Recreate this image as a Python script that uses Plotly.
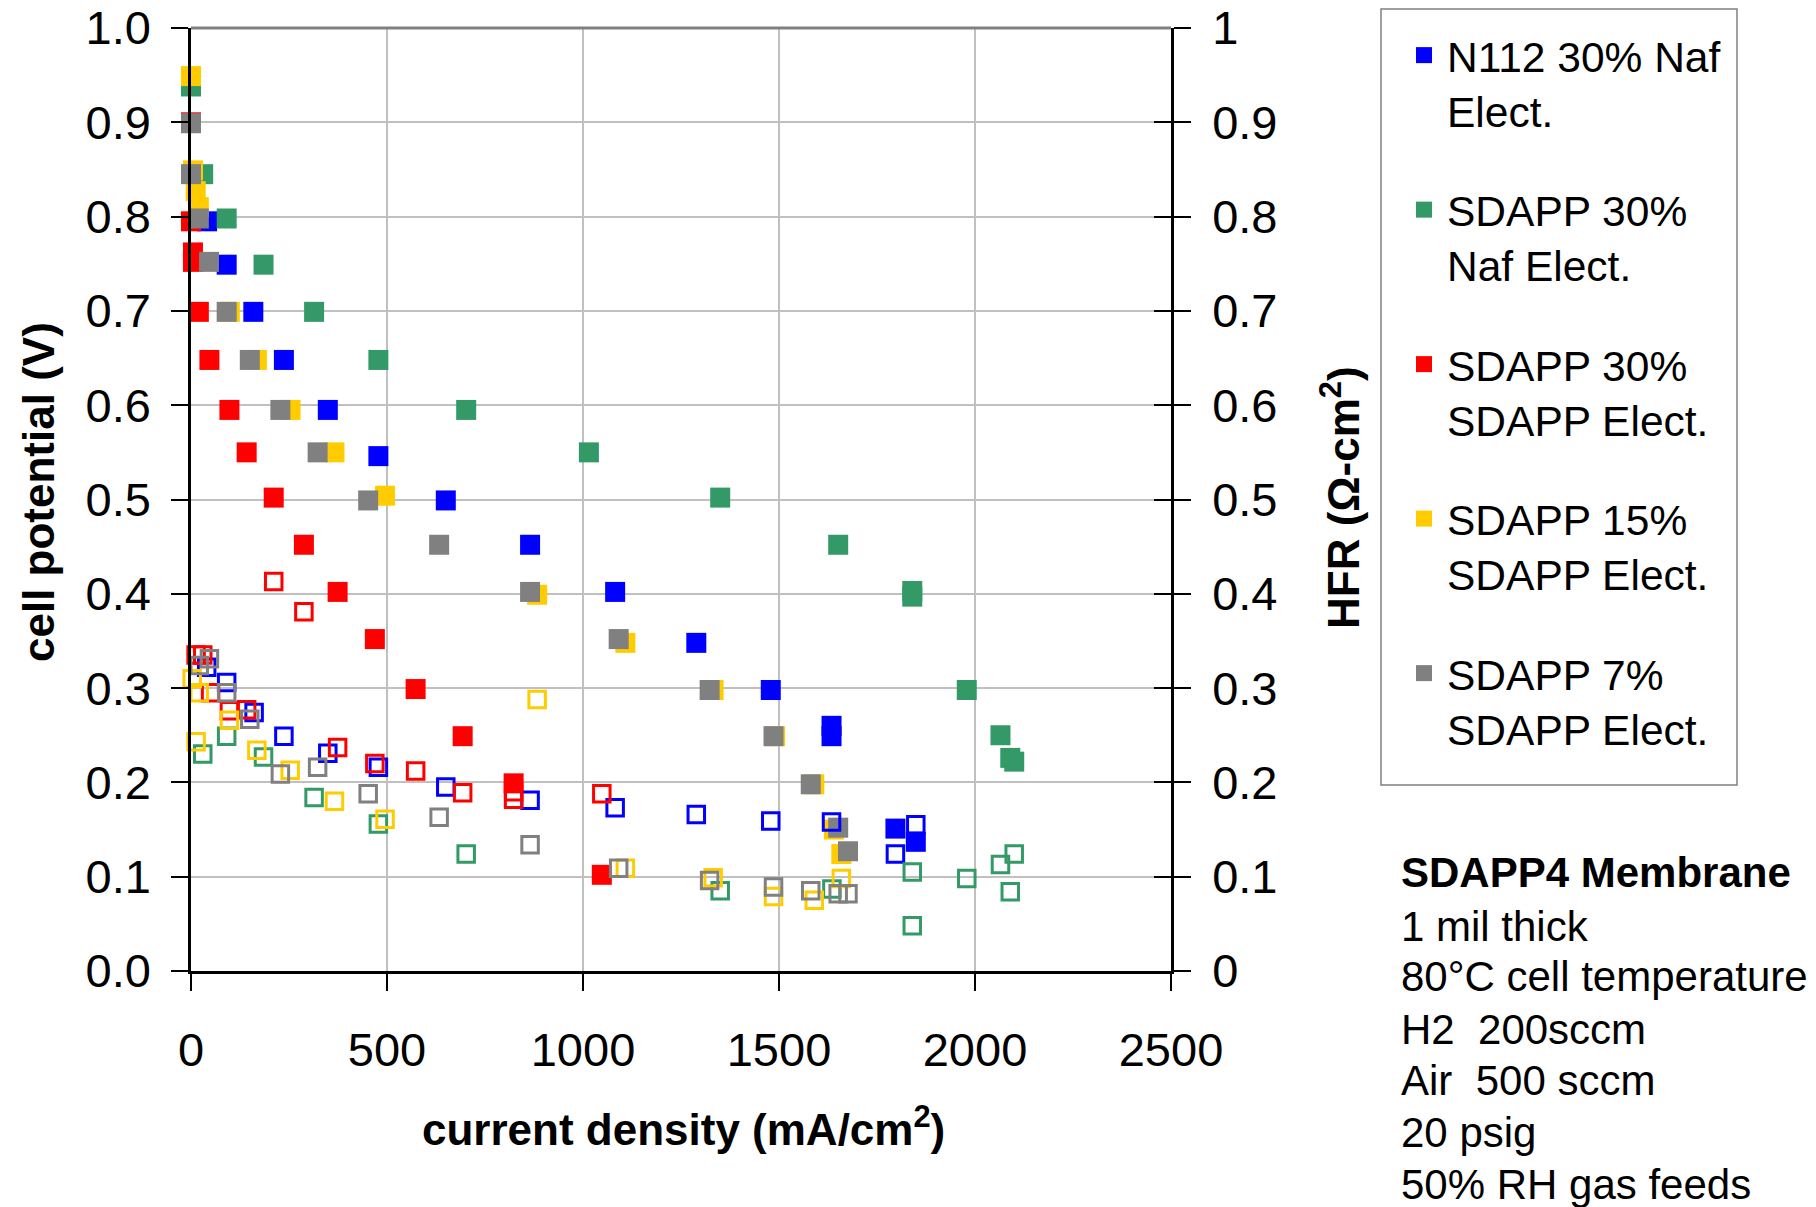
import plotly.graph_objects as go

# ---------------- data ----------------
series_names = ["N112 30% Naf<br>Elect.", "SDAPP 30%<br>Naf Elect.", "SDAPP 30%<br>SDAPP Elect.",
                "SDAPP 15%<br>SDAPP Elect.", "SDAPP 7%<br>SDAPP Elect."]
series_colors = ["#0000FF", "#339966", "#FF0000", "#FFCC00", "#808080"]

# N112 30% Naf Elect.
blue_i_v = [41, 91, 159, 237, 349, 478, 650, 865, 1082, 1289, 1479, 1634, 1634, 1797, 1849]
blue_v = [0.795, 0.749, 0.699, 0.648, 0.595, 0.546, 0.499, 0.452, 0.402, 0.348, 0.298, 0.260, 0.249, 0.151, 0.137]
blue_i_h = [40, 91, 161, 237, 349, 478, 650, 865, 1082, 1289, 1479, 1634, 1797, 1849]
blue_h = [0.322, 0.306, 0.274, 0.249, 0.231, 0.216, 0.195, 0.181, 0.173, 0.166, 0.159, 0.158, 0.124, 0.155]

# SDAPP 30% Naf Elect.
green_i_v = [0, 31, 91, 185, 314, 478, 702, 1015, 1350, 1651, 1840, 1840, 1979, 2065, 2090, 2100]
green_v = [0.938, 0.845, 0.798, 0.749, 0.699, 0.648, 0.595, 0.550, 0.502, 0.452, 0.403, 0.397, 0.298, 0.250, 0.226, 0.222]
green_i_h = [30, 91, 185, 314, 478, 702, 1350, 1635, 1840, 1840, 1979, 2065, 2100, 2090]
green_h = [0.230, 0.249, 0.227, 0.184, 0.156, 0.124, 0.085, 0.087, 0.105, 0.048, 0.098, 0.113, 0.124, 0.084]

# SDAPP 30% SDAPP Elect.
red_i_v = [0, 0, 5, 5, 20, 47, 98, 142, 211, 288, 374, 469, 573, 693, 823, 1048]
red_v = [0.900, 0.795, 0.762, 0.752, 0.699, 0.648, 0.595, 0.550, 0.502, 0.452, 0.402, 0.352, 0.299, 0.249, 0.199, 0.102]
red_i_h = [13, 30, 50, 98, 142, 211, 288, 374, 469, 573, 693, 823, 823, 1048]
red_h = [0.335, 0.335, 0.295, 0.276, 0.277, 0.413, 0.381, 0.237, 0.220, 0.212, 0.189, 0.190, 0.182, 0.188]

# SDAPP 15% SDAPP Elect.
yellow_i_v = [0, 5, 12, 20, 99, 168, 254, 366, 495, 883, 1108, 1333, 1490, 1590, 1640, 1659]
yellow_v = [0.949, 0.849, 0.827, 0.810, 0.699, 0.648, 0.595, 0.550, 0.504, 0.399, 0.348, 0.298, 0.249, 0.198, 0.150, 0.124]
yellow_i_h = [3, 21, 13, 98, 168, 253, 366, 495, 883, 1108, 1332, 1486, 1590, 1659]
yellow_h = [0.310, 0.295, 0.243, 0.266, 0.234, 0.213, 0.180, 0.161, 0.288, 0.109, 0.099, 0.079, 0.075, 0.098]

# SDAPP 7% SDAPP Elect.
gray_i_v = [0, 0, 20, 46, 91, 150, 228, 323, 452, 633, 865, 1091, 1323, 1486, 1581, 1651, 1676]
gray_v = [0.899, 0.845, 0.798, 0.752, 0.699, 0.648, 0.595, 0.550, 0.499, 0.452, 0.402, 0.352, 0.298, 0.249, 0.198, 0.152, 0.127]
gray_i_h = [21, 47, 91, 150, 228, 323, 452, 633, 865, 1091, 1323, 1486, 1581, 1651, 1676]
gray_h = [0.324, 0.331, 0.295, 0.267, 0.209, 0.216, 0.188, 0.163, 0.134, 0.109, 0.096, 0.089, 0.085, 0.082, 0.082]

x_ticks = [0, 500, 1000, 1500, 2000, 2500]
y_left_ticks = [0.0, 0.1, 0.2, 0.3, 0.4, 0.5, 0.6, 0.7, 0.8, 0.9, 1.0]
y_right_text = ["0", "0.1", "0.2", "0.3", "0.4", "0.5", "0.6", "0.7", "0.8", "0.9", "1"]

info_lines = ["<b>SDAPP4 Membrane</b>", "1 mil thick", "80°C cell temperature", "H2  200sccm",
              "Air  500 sccm", "20 psig", "50% RH gas feeds"]

V_data = [(blue_i_v, blue_v), (green_i_v, green_v), (red_i_v, red_v), (yellow_i_v, yellow_v), (gray_i_v, gray_v)]
H_data = [(blue_i_h, blue_h), (green_i_h, green_h), (red_i_h, red_h), (yellow_i_h, yellow_h), (gray_i_h, gray_h)]

# ---------------- figure ----------------
W, H = 1816, 1207
ML, MR, MT, MB = 191, 645, 28, 236
PW, PH = W - ML - MR, H - MT - MB
FONT = "Liberation Sans, Arial, sans-serif"


def px_x(px):
    return (px - ML) / PW


def px_y(py):
    return (H - MB - py) / PH


fig = go.Figure()

for k, ((xs, ys), name, col) in enumerate(zip(V_data, series_names, series_colors)):
    fig.add_trace(go.Scatter(
        x=xs, y=ys, mode="markers", name=name, legendgroup=f"g{k}",
        marker=dict(symbol="square", size=20, color=col, line=dict(width=0)),
        cliponaxis=False, yaxis="y"))

for k, ((xs, ys), name, col) in enumerate(zip(H_data, series_names, series_colors)):
    fig.add_trace(go.Scatter(
        x=xs, y=ys, mode="markers", name=name + " HFR", legendgroup=f"g{k}", showlegend=False,
        marker=dict(symbol="square-open", size=16.5, color=col, line=dict(width=3, color=col)),
        cliponaxis=False, yaxis="y2"))

axis_common = dict(showline=True, linecolor="black", linewidth=2.5, ticks="outside", ticklen=17,
                   tickwidth=2, tickcolor="black", zeroline=False,
                   tickfont=dict(family=FONT, size=47, color="black"))

fig.update_layout(
    width=W, height=H, margin=dict(l=ML, r=MR, t=MT, b=MB, autoexpand=False),
    paper_bgcolor="white", plot_bgcolor="white",
    font=dict(family=FONT, color="black"),
    xaxis=dict(range=[0, 2500], tickvals=x_ticks, showgrid=True, gridcolor="#C0C0C0", gridwidth=1.5,
               ticklabelstandoff=19, **axis_common),
    yaxis=dict(range=[0, 1], tickvals=y_left_ticks, tickformat=".1f", showgrid=True,
               gridcolor="#C0C0C0", gridwidth=1.5, mirror="ticks", ticklabelstandoff=11, **axis_common),
    yaxis2=dict(range=[0, 1], overlaying="y", side="right", tickvals=y_left_ticks, ticktext=y_right_text,
                showgrid=False, ticklabelstandoff=29,
                **{**axis_common, "ticks": "inside"}),
    legend=dict(x=px_x(1386), y=px_y(21), xanchor="left", yanchor="top",
                borderwidth=0, bgcolor="rgba(0,0,0,0)",
                font=dict(family=FONT, size=42.5, color="black"),
                traceorder="grouped", tracegroupgap=41, valign="top",
                indentation=15, itemwidth=36, maxheight=900),
    showlegend=True,
)

# legend frame
fig.add_shape(type="rect", xref="paper", yref="paper", x0=px_x(1381), x1=px_x(1737),
              y0=px_y(785), y1=px_y(9), line=dict(color="#808080", width=1.5), layer="below")

# gray plot-area border on top
fig.add_shape(type="line", xref="paper", yref="paper", x0=0, x1=1, y0=1, y1=1,
              line=dict(color="#808080", width=3), layer="above")

# axis titles
fig.add_annotation(text="<b>cell potential (V)</b>", xref="paper", yref="paper",
                   x=px_x(38), y=px_y(492), textangle=-90, showarrow=False,
                   xanchor="center", yanchor="middle", font=dict(family=FONT, size=44))
fig.add_annotation(text="<b>HFR (Ω-cm<sup>2</sup>)</b>", xref="paper", yref="paper",
                   x=px_x(1340), y=px_y(498), textangle=-90, showarrow=False,
                   xanchor="center", yanchor="middle", font=dict(family=FONT, size=44))
fig.add_annotation(text="<b>current density (mA/cm<sup>2</sup>)</b>", xref="paper", yref="paper",
                   x=px_x(683), y=px_y(1126), showarrow=False,
                   xanchor="center", yanchor="middle", font=dict(family=FONT, size=44))

# info text block
line_centers = [872, 926, 977, 1029, 1080, 1132, 1184]
for txt, cy in zip(info_lines, line_centers):
    fig.add_annotation(text=txt, xref="paper", yref="paper", x=px_x(1399), y=px_y(cy),
                       xanchor="left", yanchor="middle", showarrow=False,
                       font=dict(family=FONT, size=42, color="black"))

fig.write_html("out.html")
